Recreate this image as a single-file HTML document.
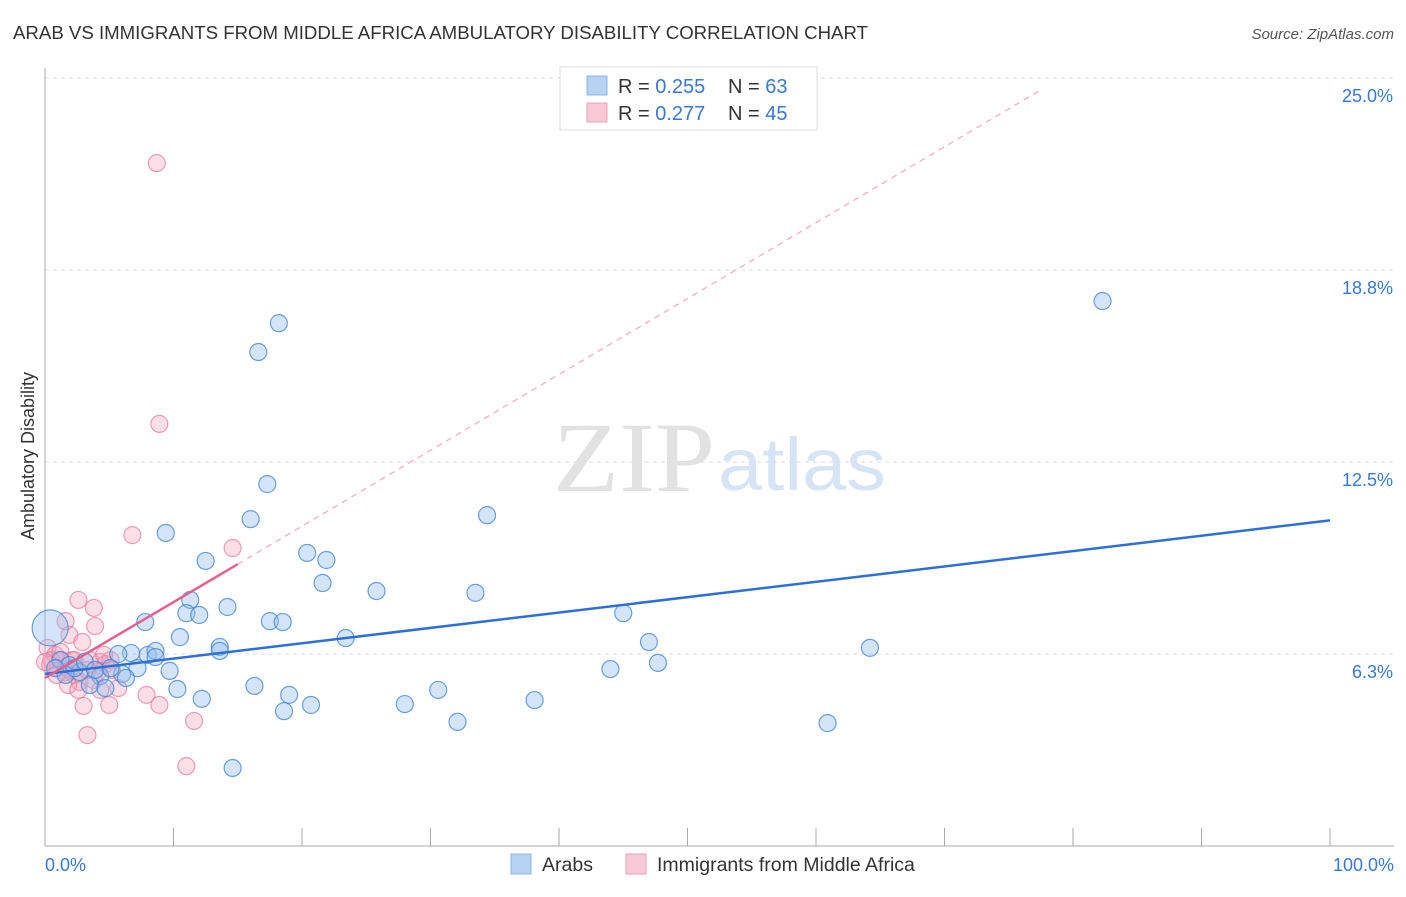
<!DOCTYPE html>
<html><head><meta charset="utf-8"><style>
body{margin:0;background:#fff;font-family:"Liberation Sans",sans-serif;}
svg text{font-family:"Liberation Sans",sans-serif;}
</style></head><body>
<svg id="chart" width="1406" height="892" viewBox="0 0 1406 892" xmlns="http://www.w3.org/2000/svg">
<text x="13" y="39" font-size="18" fill="#333" textLength="855" lengthAdjust="spacingAndGlyphs">ARAB VS IMMIGRANTS FROM MIDDLE AFRICA AMBULATORY DISABILITY CORRELATION CHART</text>
<text x="1394" y="39" font-size="15" fill="#555" text-anchor="end" font-style="italic">Source: ZipAtlas.com</text>
<g>
<text x="553" y="491" font-size="100" fill="#e2e2e2" style="font-family:'Liberation Serif',serif" textLength="162" lengthAdjust="spacingAndGlyphs">ZIP</text>
<text x="718" y="490" font-size="74" fill="#d6e4f5" textLength="168" lengthAdjust="spacingAndGlyphs">atlas</text>
</g>
<g id="grid"></g>
<g id="axes"></g>
<g id="marks"></g>
<text transform="translate(34,456) rotate(-90)" font-size="18" fill="#333" text-anchor="middle">Ambulatory Disability</text>
<g>
<rect x="560" y="67" width="257" height="63" fill="#fff" stroke="#ddd"/>
<rect x="587" y="76" width="20" height="19" fill="#b8d2f3" stroke="#8db4e8"/>
<rect x="587" y="103" width="20" height="19" fill="#f9c9d8" stroke="#eea0b8"/>
<text x="618" y="93" font-size="20" fill="#333">R = <tspan fill="#3a78d4">0.255</tspan><tspan x="728">N = </tspan><tspan fill="#3a78d4">63</tspan></text>
<text x="618" y="120" font-size="20" fill="#333">R = <tspan fill="#3a78d4">0.277</tspan><tspan x="728">N = </tspan><tspan fill="#3a78d4">45</tspan></text>
</g>
<g>
<rect x="511" y="854" width="20" height="20" fill="#b8d2f3" stroke="#8db4e8"/>
<text x="542" y="871" font-size="19.5" fill="#333">Arabs</text>
<rect x="626" y="854" width="20" height="20" fill="#f9c9d8" stroke="#eea0b8"/>
<text x="657" y="871" font-size="19.5" fill="#333">Immigrants from Middle Africa</text>
</g>
</svg>
<script>
const yTicks=[6.3,12.5,18.8,25.0];
const yTickVals=[6.25,12.5,18.75,25];
const xLabels=["0.0%","100.0%"];
const arabX=[82.3,18.2,16.6,17.3,34.4,16.0,9.4,12.5,20.4,21.9,21.6,25.8,33.5,11.3,11.0,12.0,14.2,7.8,17.5,18.5,45.0,10.5,23.4,47.0,13.6,13.6,64.2,6.7,8.0,8.6,5.7,8.6,9.7,47.7,44.0,7.2,6.0,4.3,3.5,4.7,6.3,10.3,16.3,19.0,12.2,30.6,38.1,28.0,20.7,18.6,32.1,60.9,14.6,0.4,1.2,1.9,2.7,0.8,1.6,2.3,3.1,3.9,5.1];
const arabY=[17.74,17.02,16.08,11.78,10.77,10.64,10.19,9.28,9.54,9.31,8.56,8.30,8.24,8.01,7.58,7.52,7.78,7.29,7.32,7.29,7.58,6.80,6.77,6.64,6.48,6.35,6.45,6.28,6.22,6.35,6.25,6.15,5.70,5.96,5.76,5.79,5.60,5.53,5.24,5.14,5.47,5.11,5.21,4.92,4.79,5.08,4.75,4.62,4.59,4.39,4.04,4.00,2.54,7.10,6.05,5.89,5.66,5.79,5.57,5.79,6.0,5.73,5.79];
const immX=[8.7,8.9,6.8,14.6,2.6,3.8,1.6,3.9,1.9,2.9,0.2,0.8,1.3,0.4,1.0,1.9,2.3,2.7,1.8,3.5,4.3,4.7,4.1,5.1,5.7,7.9,8.9,3.0,5.0,11.6,3.3,11.0,0.5,1.2,0.0,2.1,3.3,4.6,2.6,1.6,0.9,3.8,5.2,4.3,2.3];
const immY=[22.23,13.74,10.12,9.70,8.01,7.75,7.32,7.16,6.87,6.64,6.45,6.22,6.05,5.89,5.79,5.73,5.57,5.34,5.24,6.05,5.99,5.92,5.66,6.05,5.14,4.92,4.59,4.56,4.59,4.07,3.61,2.60,6.05,6.32,5.99,6.05,5.73,6.22,5.08,5.66,5.57,5.40,5.73,5.08,6.05];
const arabTrend=[5.6,10.6];
const immTrend=[5.47,0.247];
const NS="http://www.w3.org/2000/svg";
const X=v=>45+v*12.85, Y=v=>846-v*30.72;
function mk(tag,attrs,parent){const e=document.createElementNS(NS,tag);for(const k in attrs)e.setAttribute(k,attrs[k]);document.getElementById(parent).appendChild(e);return e;}
yTickVals.forEach((v,i)=>{
 const g=mk('line',{x1:45,x2:1394,y1:Y(v),y2:Y(v),stroke:'#ddd','stroke-dasharray':'4,4'},'grid');
 
 
 const t=mk('text',{x:1393,y:Y(v)+24,'font-size':18,fill:'#3a78d4','text-anchor':'end'},'axes');
 t.textContent=yTicks[i].toFixed(1)+'%';
 
 
});
const ya=mk('line',{x1:45,x2:45,y1:68,y2:846,stroke:'#aaa'},'axes');


const xa=mk('line',{x1:45,x2:1394,y1:846,y2:846,stroke:'#aaa'},'axes');


for(let i=1;i<=10;i++){const t=mk('line',{x1:X(i*10),x2:X(i*10),y1:828,y2:846,stroke:'#aaa'},'axes');
 
 }
[[0,'start',45],[1,'end',1394]].forEach(([i,a,x])=>{const t=mk('text',{x:x,y:871,'font-size':18,fill:'#3a78d4','text-anchor':a},'axes');t.textContent=xLabels[i];
 
 });
immX.forEach((x,i)=>{const c=mk('circle',{cx:X(x),cy:Y(immY[i]),r:8.5,fill:'rgba(245,160,185,0.35)',stroke:'rgba(230,120,155,0.7)','stroke-width':1.2},'marks');
 
 });
arabX.forEach((x,i)=>{const c=mk('circle',{cx:X(x),cy:Y(arabY[i]),r:i==53?18:8.5,fill:'rgba(150,190,240,0.4)',stroke:'rgba(60,130,215,0.75)','stroke-width':1.2},'marks');
 
 });
const bl=mk('line',{x1:X(0),y1:Y(arabTrend[0]),x2:X(100),y2:Y(arabTrend[1]),stroke:'#2e6fd6','stroke-width':2.5},'marks');


const pd=mk('line',{x1:X(15),y1:Y(immTrend[0]+immTrend[1]*15),x2:X(77.4),y2:Y(immTrend[0]+immTrend[1]*77.4),stroke:'#eeaabd','stroke-width':1.2,'stroke-dasharray':'6,5'},'marks');


const pl=mk('line',{x1:X(0),y1:Y(immTrend[0]),x2:X(15),y2:Y(immTrend[0]+immTrend[1]*15),stroke:'#e5608a','stroke-width':2.5},'marks');


</script>
</body></html>
